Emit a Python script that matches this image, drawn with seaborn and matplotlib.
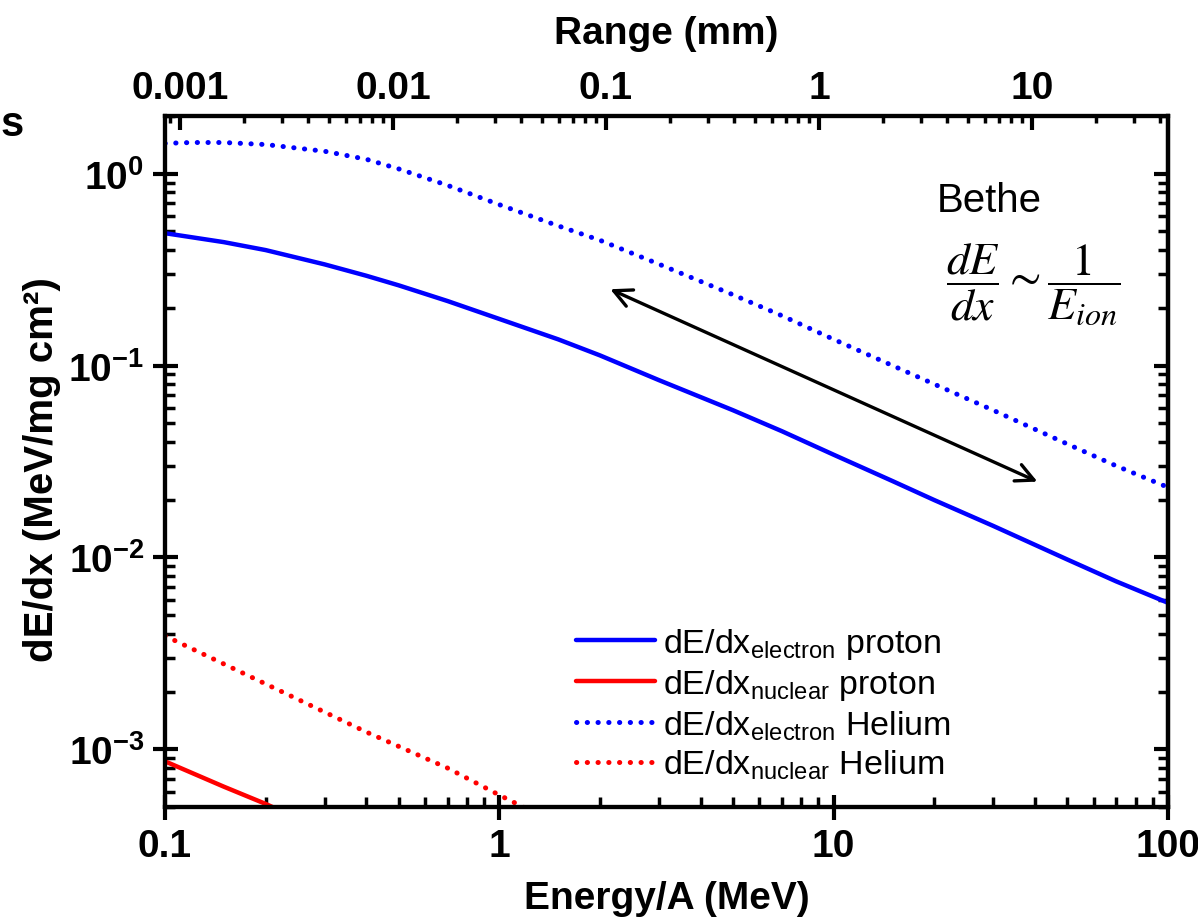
import numpy as np
import pandas as pd
import matplotlib
matplotlib.use("Agg")
import matplotlib.pyplot as plt
import seaborn as sns

# ---- data ----
energy_p = [0.1, 0.15, 0.2, 0.3, 0.4, 0.5, 0.7, 1.0, 1.5, 2, 3, 5, 7, 10, 15, 20, 30, 50, 70, 100]
p_elec = [0.49, 0.44, 0.40, 0.337, 0.294, 0.262, 0.217, 0.175, 0.137, 0.113, 0.084, 0.0585,
          0.0455, 0.0343, 0.0250, 0.0199, 0.0146, 0.00975, 0.0075, 0.0058]
energy_he = [0.1, 0.12, 0.15, 0.2, 0.3, 0.4, 0.5, 0.7, 1.0, 1.5, 2, 3, 5, 7, 10, 15, 20, 30, 50, 70, 100]
he_elec = [1.44, 1.455, 1.455, 1.42, 1.31, 1.19, 1.06, 0.87, 0.69, 0.535, 0.45, 0.338, 0.234,
           0.182, 0.137, 0.100, 0.080, 0.0585, 0.039, 0.0300, 0.0232]
energy_pn = [0.1, 0.15, 0.2, 0.3]
p_nucl = [8.65e-4, 6.38e-4, 5.19e-4, 3.75e-4]
energy_hn = [0.1, 0.2, 0.4, 0.7, 1.0, 1.5]
he_nucl = [3.9e-3, 2.19e-3, 1.23e-3, 7.98e-4, 5.77e-4, 4.05e-4]

labels = [r"dE/dx$_{\mathrm{electron}}$ proton",
          r"dE/dx$_{\mathrm{nuclear}}$ proton",
          r"dE/dx$_{\mathrm{electron}}$ Helium",
          r"dE/dx$_{\mathrm{nuclear}}$ Helium"]

range_ticks = [0.001, 0.01, 0.1, 1, 10]
range_labels = ["0.001", "0.01", "0.1", "1", "10"]
x_ticks = [0.1, 1, 10, 100]
x_labels = ["0.1", "1", "10", "100"]
y_ticks = [1e0, 1e-1, 1e-2, 1e-3]
y_labels = [r"$\mathbf{10^{0}}$", r"$\mathbf{10^{-1}}$", r"$\mathbf{10^{-2}}$", r"$\mathbf{10^{-3}}$"]

sns.set_theme(style="ticks")
plt.rcParams["font.family"] = ["Liberation Sans", "DejaVu Sans"]
plt.rcParams["mathtext.fontset"] = "custom"
plt.rcParams["mathtext.rm"] = "Liberation Sans"
plt.rcParams["mathtext.it"] = "Liberation Sans:italic"
plt.rcParams["mathtext.bf"] = "Liberation Sans:bold"
for k in ["text.color", "axes.labelcolor", "xtick.color", "ytick.color", "axes.edgecolor"]:
    plt.rcParams[k] = "black"

fig = plt.figure(figsize=(11.98, 9.2), dpi=100)
ax = fig.add_axes([165/1198, 1-808/920, (1168-165)/1198, (808-117)/920])

dotted = (0, (0.05, 2.1))
sns.lineplot(x=energy_p, y=p_elec, ax=ax, color="#0000FF", lw=3.2, label=labels[0])
sns.lineplot(x=energy_pn, y=p_nucl, ax=ax, color="#FF0000", lw=3.2, label=labels[1])
sns.lineplot(x=energy_he, y=he_elec, ax=ax, color="#0000FF", lw=3.6, label=labels[2])
sns.lineplot(x=energy_hn, y=he_nucl, ax=ax, color="#FF0000", lw=3.6, label=labels[3])
lines = ax.get_lines()
for ln in lines[2:4]:
    ln.set_linestyle(dotted)
    ln.set_dash_capstyle("round")

ax.set_xscale("log")
ax.set_yscale("log")
ax.set_xlim(0.1, 100)
ax.set_ylim(5e-4, 2.0)

ax.set_xticks(x_ticks)
ax.set_xticklabels(x_labels, fontsize=28, fontweight="bold")
ax.set_yticks(y_ticks)
ax.set_yticklabels(y_labels, fontsize=28)

for s in ax.spines.values():
    s.set_linewidth(3)
    s.set_color("black")

ax.tick_params(axis="both", which="major", direction="inout", length=18, width=3,
               color="black", pad=6, top=False, right=False)
ax.tick_params(axis="both", which="minor", direction="in", length=7, width=2.5,
               color="black", top=False, right=False)
ax.xaxis.set_minor_formatter(matplotlib.ticker.NullFormatter())
ax.yaxis.set_minor_formatter(matplotlib.ticker.NullFormatter())

# right mirrored axis (inward ticks only)
sec = ax.secondary_yaxis("right")
sec.set_yticks(y_ticks)
sec.tick_params(which="major", direction="in", length=10, width=3, labelright=False, color="black")
sec.tick_params(which="minor", direction="in", length=7, width=2.5, color="black")
sec.spines["right"].set_linewidth(3)
sec.yaxis.set_minor_formatter(matplotlib.ticker.NullFormatter())

# top range axis
top = ax.twiny()
top.set_xscale("log")
top.set_xlim(0.00085, 43.5)
top.set_xticks(range_ticks)
top.set_xticklabels(range_labels, fontsize=28, fontweight="bold")
top.tick_params(which="major", direction="in", length=10, width=3, pad=7, color="black")
top.tick_params(which="minor", direction="in", length=5, width=2.5, color="black")
top.xaxis.set_minor_formatter(matplotlib.ticker.NullFormatter())
for s in top.spines.values():
    s.set_linewidth(3)
    s.set_color("black")
top.set_xlabel("Range (mm)", fontsize=28, fontweight="bold", labelpad=20)

ax.set_xlabel("Energy/A (MeV)", fontsize=28, fontweight="bold", labelpad=12)
ax.set_ylabel("dE/dx (MeV/mg cm²)", fontsize=29, fontweight="bold")
ax.yaxis.set_label_coords(-104/1003, 0.49)

# legend
ax.legend(loc="lower right", bbox_to_anchor=(0.804, 0.008), frameon=False, fontsize=24.5,
          handlelength=2.3, handletextpad=0.25, labelspacing=0.18, borderaxespad=0.2)

# annotations
ax.annotate("", xy=(41.4, 0.0245), xytext=(2.11, 0.2535),
            arrowprops=dict(arrowstyle="<->", color="black", lw=2.4, mutation_scale=32))
ax.text(0.769, 0.878, "Bethe", transform=ax.transAxes, fontsize=29, ha="left", va="center")
ax.text(0.866, 0.758, r"$\dfrac{dE}{dx}\sim\dfrac{1}{E_{ion}}$", transform=ax.transAxes,
        fontsize=33, ha="center", va="center", math_fontfamily="stix")

fig.text(0.0, 1-125/920, "s", fontsize=30, fontweight="bold", ha="left", va="center")

fig.savefig("out.png", dpi=100)
